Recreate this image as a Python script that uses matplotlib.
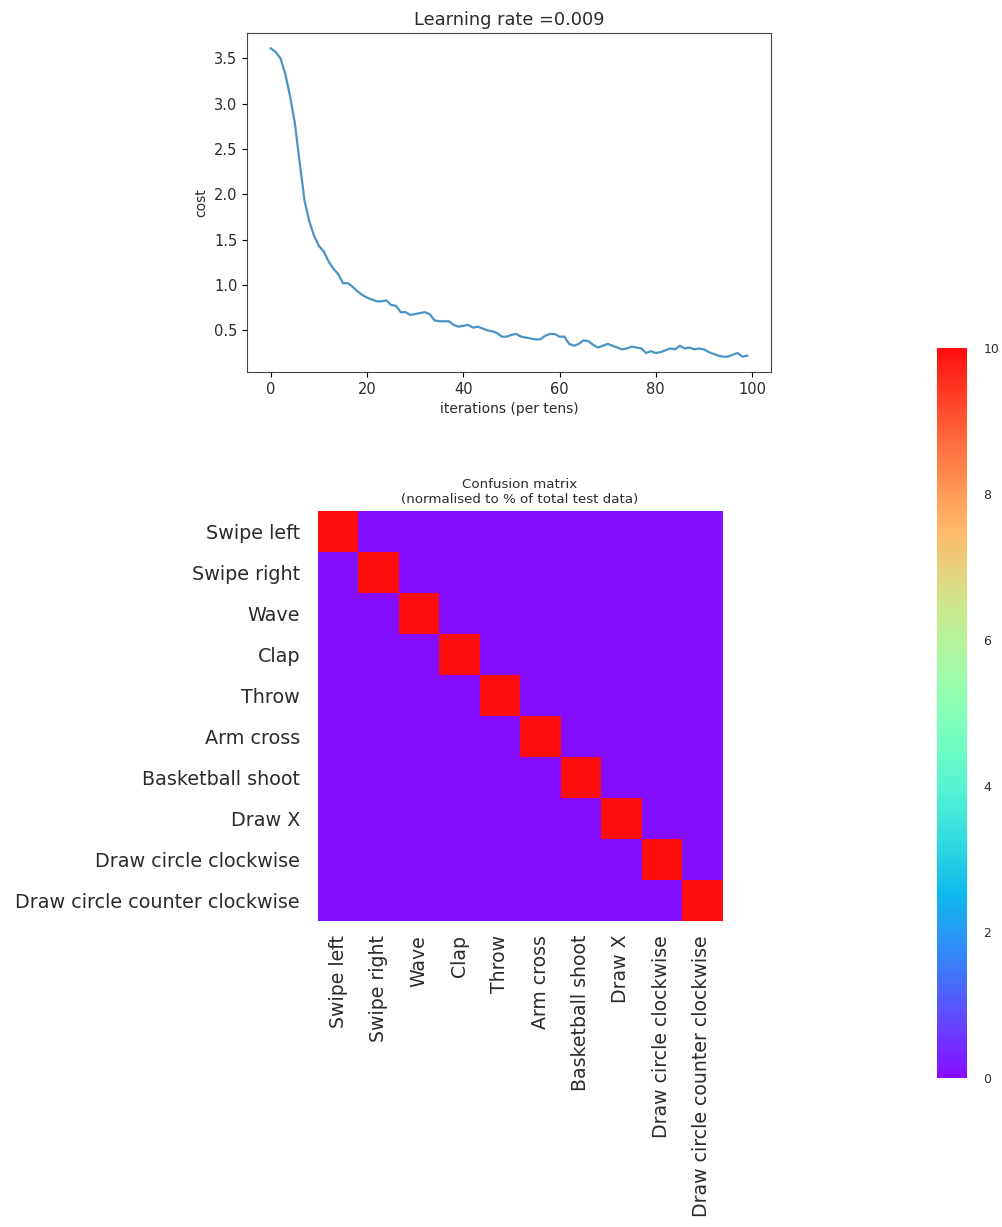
import numpy as np
import matplotlib
matplotlib.use("Agg")
import matplotlib.pyplot as plt

iterations = list(range(100))
cost = [3.61, 3.57, 3.50, 3.33, 3.08, 2.78, 2.35, 1.93, 1.70, 1.54,
        1.43, 1.37, 1.26, 1.18, 1.12, 1.02, 1.02, 0.98, 0.93, 0.89,
        0.86, 0.84, 0.82, 0.82, 0.83, 0.78, 0.77, 0.70, 0.70, 0.67,
        0.68, 0.69, 0.70, 0.68, 0.61, 0.60, 0.60, 0.60, 0.56, 0.54,
        0.55, 0.56, 0.53, 0.54, 0.52, 0.50, 0.49, 0.47, 0.43, 0.43,
        0.45, 0.46, 0.43, 0.42, 0.41, 0.40, 0.40, 0.44, 0.46, 0.46,
        0.43, 0.43, 0.35, 0.33, 0.35, 0.39, 0.38, 0.34, 0.31, 0.33,
        0.35, 0.33, 0.31, 0.29, 0.30, 0.32, 0.31, 0.30, 0.25, 0.27,
        0.25, 0.26, 0.28, 0.30, 0.29, 0.33, 0.30, 0.31, 0.29, 0.30,
        0.29, 0.26, 0.24, 0.22, 0.21, 0.21, 0.23, 0.25, 0.21, 0.22]

labels = ["Swipe left", "Swipe right", "Wave", "Clap", "Throw", "Arm cross",
          "Basketball shoot", "Draw X", "Draw circle clockwise",
          "Draw circle counter clockwise"]
diag_value = 10.0
n = len(labels)
conf = np.zeros((n, n))
for i in range(n):
    conf[i, i] = diag_value

plt.rcParams['text.color'] = '#2b2b2b'
plt.rcParams['xtick.labelcolor'] = '#2b2b2b'
plt.rcParams['ytick.labelcolor'] = '#2b2b2b'
plt.rcParams['axes.labelcolor'] = '#2b2b2b'

fig = plt.figure(figsize=(10.03, 12.27), dpi=100)

ax1 = fig.add_axes([0.2463, 0.6968, 0.5224, 0.2763])
ax1.plot(iterations, cost, color="#1f77b4", alpha=0.8, linewidth=1.6)
ax1.set_title("Learning rate =0.009", fontsize=12.8)
ax1.set_xlabel("iterations (per tens)", fontsize=10)
ax1.set_ylabel("cost", fontsize=10)
ax1.tick_params(labelsize=10.5)
for s in ax1.spines.values():
    s.set_color('#444444')

ax2 = fig.add_axes([0.317, 0.2494, 0.4028, 0.334])
im = ax2.imshow(conf, cmap="rainbow", interpolation="nearest", aspect="auto",
                vmin=0, vmax=10, alpha=0.95)
ax2.set_title("Confusion matrix\n(normalised to % of total test data)", fontsize=9.6)
ax2.set_xticks(range(n))
ax2.set_xticklabels(labels, rotation=90, fontsize=13.6)
ax2.set_yticks(range(n))
ax2.set_yticklabels(labels, fontsize=13.8)
ax2.tick_params(axis='y', length=0, pad=13)
ax2.tick_params(axis='x', length=0, pad=10)
for s in ax2.spines.values():
    s.set_visible(False)

cax = fig.add_axes([0.934, 0.1214, 0.030, 0.595])
cb = fig.colorbar(im, cax=cax, ticks=[0, 2, 4, 6, 8, 10])
cb.outline.set_visible(False)
cax.tick_params(length=0, labelsize=9, pad=12)

fig.savefig("out.png", dpi=100)
